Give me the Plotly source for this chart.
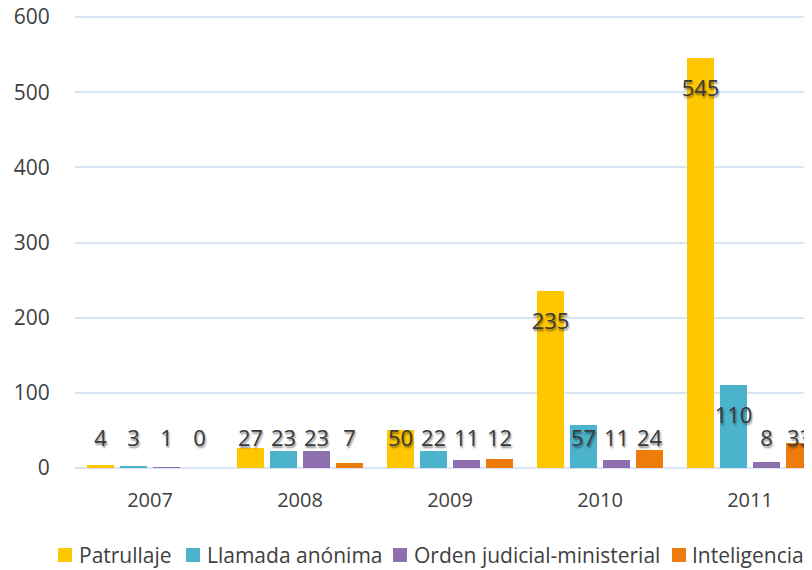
import plotly.graph_objects as go

years = ["2007", "2008", "2009", "2010", "2011"]
series_names = ["Patrullaje", "Llamada anónima", "Orden judicial-ministerial", "Inteligencia"]
patrullaje = [4, 27, 50, 235, 545]
llamada = [3, 23, 22, 57, 110]
orden = [1, 23, 11, 11, 8]
inteligencia = [0, 7, 12, 24, 33]
y_ticks = [0, 100, 200, 300, 400, 500, 600]
colors = ["#FFC700", "#4BB3CB", "#8E70B0", "#EE7C0A"]

series_values = [patrullaje, llamada, orden, inteligencia]
pitch = 0.22
bar_w = 0.18
label_drop = 42.5
label_min = 36
FONT = "Open Sans, sans-serif"

# page offset compensation (body margin) and plot area in figure pixels
OFF = 8
ML, MR, MT, MB = 67, 8, 7, 110
W, H = 812, 570
PW, PH = W - ML - MR, H - MT - MB
Y_TOP = 600 * PH / (PH - 2)   # keep 600 gridline 2px below plot top

def px(vx):
    return (vx - OFF - ML) / PW

def py(vy):
    return (H - MB - (vy - OFF)) / PH

fig = go.Figure()
for j, (name, vals, col) in enumerate(zip(series_names, series_values, colors)):
    xs = [i + (j - 1.5) * pitch for i in range(len(years))]
    fig.add_trace(go.Bar(x=xs, y=vals, width=bar_w, name=name,
                         marker=dict(color=col, line=dict(width=0)),
                         hoverinfo="skip", showlegend=False))
for j, vals in enumerate(series_values):
    xs = [i + (j - 1.5) * pitch for i in range(len(years))]
    ys = [max(v - label_drop, label_min) for v in vals]
    fig.add_trace(go.Scatter(x=xs, y=ys, mode="text", text=[str(v) for v in vals],
                             textfont=dict(family=FONT, size=22, color="#3a3a3a",
                                           shadow="1px 2px 2px rgba(0,0,0,0.45)"),
                             showlegend=False, hoverinfo="skip", cliponaxis=False))

# manual legend (swatch left edges and text left edges in page pixels)
legend_swatch_x = [58, 186, 393, 672]
legend_text_x = [77, 205, 412, 690]
legend_y = 555
sw = 14
shapes = []
annotations = []
for name, col, sx, tx in zip(series_names, colors, legend_swatch_x, legend_text_x):
    shapes.append(dict(type="rect", xref="paper", yref="paper",
                       x0=px(sx), x1=px(sx + sw), y0=py(legend_y + sw / 2), y1=py(legend_y - sw / 2),
                       fillcolor=col, line=dict(width=0)))
    annotations.append(dict(xref="paper", yref="paper", x=px(tx), y=py(legend_y),
                            xanchor="left", yanchor="middle", text=name, showarrow=False,
                            font=dict(family=FONT, size=21, color="#404040")))

fig.update_layout(
    width=W, height=H,
    margin=dict(l=ML, r=MR, t=MT, b=MB, autoexpand=False),
    paper_bgcolor="white", plot_bgcolor="white",
    font=dict(family=FONT, size=21, color="#404040"),
    showlegend=False,
    bargap=0,
    shapes=shapes,
    annotations=annotations,
)
fig.update_xaxes(range=[-0.5, 4.413], tickvals=list(range(len(years))), ticktext=years,
                 showgrid=False, zeroline=False, showline=False, automargin=False,
                 ticks="outside", ticklen=14, tickcolor="rgba(0,0,0,0)", tickfont=dict(size=20))
fig.update_yaxes(range=[0, Y_TOP], tickmode="array", tickvals=y_ticks, ticktext=[str(t) for t in y_ticks],
                 ticklabeloverflow="allow", automargin=False,
                 showgrid=True, gridcolor="#D9E5F4", gridwidth=1.5,
                 zeroline=True, zerolinecolor="#D9E5F4", zerolinewidth=1.5,
                 ticks="outside", ticklen=20, tickcolor="rgba(0,0,0,0)", tickfont=dict(size=21))

fig.write_html("out.html")
